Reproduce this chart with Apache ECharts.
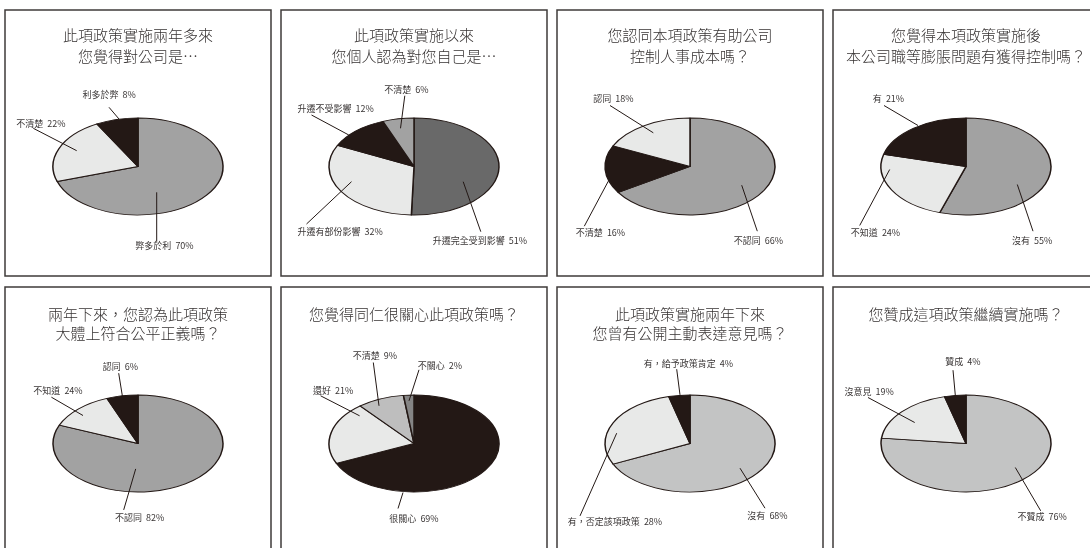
<!DOCTYPE html>
<html>
<head>
<meta charset="utf-8">
<script src="https://cdn.jsdelivr.net/npm/echarts@6/dist/echarts.min.js"></script>
<style>
html, body { margin: 0; padding: 0; background: #ffffff; overflow: hidden; }
#wrap { position: relative; width: 1090px; height: 548px; overflow: hidden; }
#slices { position: absolute; left: 0; top: 0; width: 1090px; transform-origin: 0 0; }
#overlay { position: absolute; left: 0; top: 0; width: 1090px; height: 548px; }
</style>
</head>
<body>
<div id="wrap"><div id="slices"></div><div id="overlay"></div></div>
<script>
// ---------------- DATA ----------------
const titles = [
  '此項政策實施兩年多來\n您覺得對公司是…',
  '此項政策實施以來\n您個人認為對您自己是…',
  '您認同本項政策有助公司\n控制人事成本嗎？',
  '您覺得本項政策實施後\n本公司職等膨脹問題有獲得控制嗎？',
  '兩年下來，您認為此項政策\n大體上符合公平正義嗎？',
  '您覺得同仁很關心此項政策嗎？',
  '此項政策實施兩年下來\n您曾有公開主動表達意見嗎？',
  '您贊成這項政策繼續實施嗎？'
];
const names1 = ['弊多於利', '不清楚', '利多於弊'];
const values1 = [70, 22, 8];
const names2 = ['升遷完全受到影響', '升遷有部份影響', '升遷不受影響', '不清楚'];
const values2 = [51, 32, 12, 6];
const names3 = ['不認同', '不清楚', '認同'];
const values3 = [66, 16, 18];
const names4 = ['沒有', '不知道', '有'];
const values4 = [55, 24, 21];
const names5 = ['不認同', '不知道', '認同'];
const values5 = [82, 13, 6];          // slice sizes as drawn
const printed5 = [82, 24, 6];         // percentages as printed on the labels
const names6 = ['很關心', '還好', '不清楚', '不關心'];
const values6 = [69, 21, 9, 2];
const names7 = ['沒有', '有，否定該項政策', '有，給予政策肯定'];
const values7 = [68, 28, 4];
const names8 = ['不贊成', '沒意見', '贊成'];
const values8 = [76, 19, 4];

// ---------------- STYLE / LAYOUT ----------------
const BLACK = '#231815', LIGHT = '#e8e9e8', GRAY = '#a2a2a2', DARK = '#696969', PALE = '#c3c4c4';
const RX = 85, RY = 48.5, SQ = RY / RX;
const colX = c => 138 + 276 * c;
const rowY = r => 166.5 + 277 * r;

// label placement: [textX, textY, outerX, outerY, innerX, innerY] relative to pie centre
const lab1 = [[26.5,79.5,18.7,75.2,18.7,25.8],[-97.2,-42.5,-104.7,-38.2,-61.3,-15.8],[-28.8,-71.5,-29,-59.2,-19,-47.5]];
const lab2 = [[65.8,74.2,66.8,65.2,49.2,15.2],[-73.8,65.2,-107.5,57.5,-62.5,15.2],[-78.3,-58.2,-102.5,-51.5,-65.2,-31.5],[-7.7,-77.2,-9.2,-70.8,-13.5,-38.2]];
const lab3 = [[68.3,73.7,67.3,64.7,51.7,18.7],[-89.5,66.3,-105.7,59.7,-81.7,14.7],[-76.7,-68,-80,-61,-36.7,-33.7]];
const lab4 = [[66.2,73.7,67,64.7,51.3,18],[-90.5,66.3,-106.3,59,-76.3,3],[-77.5,-68,-82,-61,-48,-41]];
const lab5 = [[1.7,73.7,-14.3,66.4,-2.3,25.4],[-80,-53,-86.6,-46.3,-55,-28],[-17.5,-77,-19.3,-70.3,-15.6,-47.3]];
const lab6 = [[0,75,-16,65,-11,49],[-80.9,-52.7,-93.4,-47.7,-54.4,-27.7],[-39.2,-87.7,-40.7,-81,-35,-37.7],[25.8,-78.3,5,-73.7,-5,-42.7]];
const lab7 = [[77.5,72.4,75,64.7,50,24.7],[-75,78,-110,72.4,-73.3,-10.3],[-1.5,-80.3,-13.3,-74.3,-10,-48.6]];
const lab8 = [[76.2,72.7,74.7,67.3,49.3,24],[-96.8,-51.7,-98,-46,-51.3,-21],[-3,-81.7,-13,-73.3,-10.7,-48.3]];

const panels = [
  { names: names1, values: values1, pct: values1, colors: [GRAY, LIGHT, BLACK], lab: lab1 },
  { names: names2, values: values2, pct: values2, colors: [DARK, LIGHT, BLACK, GRAY], lab: lab2 },
  { names: names3, values: values3, pct: values3, colors: [GRAY, BLACK, LIGHT], lab: lab3 },
  { names: names4, values: values4, pct: values4, colors: [GRAY, LIGHT, BLACK], lab: lab4 },
  { names: names5, values: values5, pct: printed5, colors: [GRAY, LIGHT, BLACK], lab: lab5 },
  { names: names6, values: values6, pct: values6, colors: [BLACK, LIGHT, '#bebebe', '#858585'], lab: lab6 },
  { names: names7, values: values7, pct: values7, colors: [PALE, LIGHT, BLACK], lab: lab7 },
  { names: names8, values: values8, pct: values8, colors: [PALE, LIGHT, BLACK], lab: lab8 }
];
panels.forEach((p, k) => { p.col = k % 4; p.row = Math.floor(k / 4); p.cx = colX(p.col); p.cy = rowY(p.row); p.title = titles[k]; });

const FONT = "'Noto Sans CJK TC', 'Noto Sans CJK SC', sans-serif";

// ---------------- SLICES (elliptical: circle pie squashed vertically) ----------------
const sliceDiv = document.getElementById('slices');
sliceDiv.style.height = (548 / SQ) + 'px';
sliceDiv.style.transform = 'scaleY(' + SQ + ')';
const chartA = echarts.init(sliceDiv, null, { renderer: 'svg' });
chartA.setOption({
  animation: false,
  series: panels.map(p => ({
    type: 'pie',
    center: [p.cx, p.cy / SQ],
    radius: RX,
    startAngle: 90,
    clockwise: true,
    silent: true,
    label: { show: false },
    labelLine: { show: false },
    itemStyle: { borderColor: BLACK, borderWidth: 1.5 },
    data: p.names.map((n, i) => ({ name: n, value: p.values[i], itemStyle: { color: p.colors[i] } }))
  }))
});

// ---------------- TITLES, FRAMES, LABELS ----------------
const chartB = echarts.init(document.getElementById('overlay'));
chartB.setOption({
  animation: false,
  title: panels.map(p => ({
    text: p.title,
    left: p.cx,
    top: p.row === 0 ? 24.5 : 305,
    textAlign: 'center',
    padding: 0,
    textStyle: { fontFamily: FONT, fontSize: 15, fontWeight: 300, color: '#363232', lineHeight: p.row === 0 ? 21.5 : 19 }
  })),
  graphic: panels.map(p => ({
    type: 'rect', silent: true, z: 10,
    shape: { x: p.cx - 133, y: (p.row === 0 ? 10 : 287), width: 266, height: 266 },
    style: { fill: 'none', stroke: '#3f3b3a', lineWidth: 1.5 }
  })),
  series: panels.map(p => ({
    type: 'pie',
    center: [p.cx, p.cy],
    radius: 40,
    startAngle: 90,
    clockwise: true,
    silent: true,
    avoidLabelOverlap: false,
    itemStyle: { color: 'rgba(0,0,0,0)', borderWidth: 0 },
    label: {
      show: true, position: 'outside',
      fontFamily: FONT, fontSize: 9, color: '#3a3636',
      formatter: prm => prm.name + '  ' + p.pct[prm.dataIndex] + '%'
    },
    labelLine: { show: true, length: 5, length2: 5, lineStyle: { color: BLACK, width: 1 } },
    labelLayout: prm => {
      const L = p.lab[prm.dataIndex];
      return {
        x: p.cx + L[0], y: p.cy + L[1], align: 'center', verticalAlign: 'middle',
        labelLinePoints: [[p.cx + L[2], p.cy + L[3]], [p.cx + L[2], p.cy + L[3]], [p.cx + L[4], p.cy + L[5]]]
      };
    },
    data: p.names.map((n, i) => ({ name: n, value: p.values[i] }))
  }))
});
</script>
</body>
</html>
